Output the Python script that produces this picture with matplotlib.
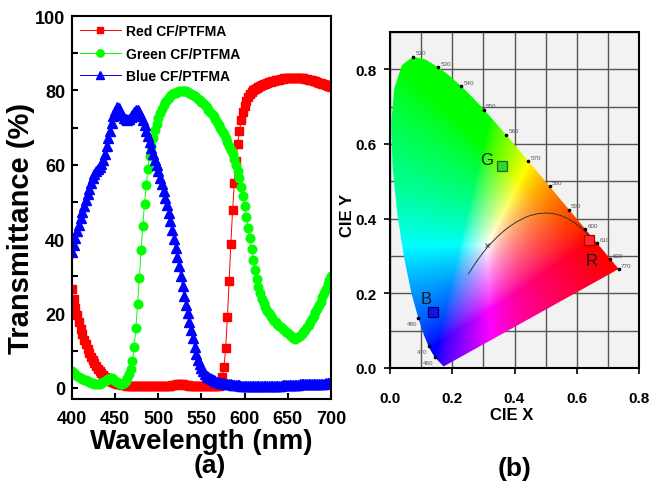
import numpy as np
import matplotlib
matplotlib.use("Agg")
import matplotlib.pyplot as plt
from matplotlib.patches import Polygon
from matplotlib.ticker import MultipleLocator

plt.rcParams['font.family'] = ['Liberation Sans', 'DejaVu Sans']

# ---- panel (a): transmittance spectra, sampled every 2 nm ----
wavelength = np.arange(400, 701, 2)

red_T = [
    26.5, 24.0, 21.6, 19.5, 17.6, 15.9, 14.4, 13.0, 11.7, 10.5,   # 400-418
    9.4, 8.4, 7.5, 6.6, 5.8, 5.1, 4.5, 3.9, 3.4, 3.0,             # 420-438
    2.6, 2.3, 2.0, 1.7, 1.5, 1.3, 1.1, 1.0, 0.9, 0.8,             # 440-458
    0.7, 0.7, 0.6, 0.6, 0.6, 0.5, 0.5, 0.5, 0.5, 0.5,             # 460-478
    0.5, 0.5, 0.5, 0.5, 0.5, 0.5, 0.5, 0.5, 0.5, 0.5,             # 480-498
    0.5, 0.5, 0.5, 0.5, 0.5, 0.5, 0.6, 0.6, 0.7, 0.7,             # 500-518
    0.8, 0.9, 1.0, 1.0, 0.9, 0.8, 0.7, 0.7, 0.6, 0.6,             # 520-538
    0.5, 0.5, 0.4, 0.4, 0.4, 0.4, 0.4, 0.4, 0.4, 0.4,             # 540-558
    0.4, 0.4, 0.4, 0.4, 0.5, 0.6, 1.0, 2.9, 5.5, 10.7,            # 560-578
    19.0, 28.8, 38.7, 47.7, 55.1, 61.1, 65.6, 69.2, 71.9, 74.1,   # 580-598
    75.7, 77.1, 78.2, 79.0, 79.6, 80.0, 80.4, 80.7, 81.0, 81.2,   # 600-618
    81.4, 81.6, 81.8, 82.0, 82.2, 82.3, 82.5, 82.6, 82.7, 82.8,   # 620-638
    82.9, 83.0, 83.1, 83.2, 83.2, 83.3, 83.3, 83.3, 83.4, 83.4,   # 640-658
    83.4, 83.3, 83.3, 83.2, 83.2, 83.1, 83.0, 82.9, 82.8, 82.7,   # 660-678
    82.5, 82.4, 82.2, 82.1, 81.9, 81.8, 81.6, 81.4, 81.3, 81.1,   # 680-698
    80.9,                                                         # 700
]

green_T = [
    4.5, 4.0, 3.6, 3.2, 2.9, 2.6, 2.4, 2.2, 2.0, 1.8,             # 400-418
    1.6, 1.4, 1.2, 1.0, 0.9, 0.9, 1.0, 1.2, 1.5, 1.8,             # 420-438
    2.1, 2.4, 2.6, 2.6, 2.3, 1.9, 1.5, 1.2, 1.0, 1.1,             # 440-458
    1.4, 1.9, 2.6, 3.6, 5.0, 7.3, 11.0, 16.0, 22.6, 29.6,         # 460-478
    37.0, 43.6, 49.5, 54.6, 58.9, 62.4, 65.0, 67.3, 69.3, 71.0,   # 480-498
    72.5, 73.8, 75.0, 76.0, 76.8, 77.5, 78.0, 78.5, 78.9, 79.2,   # 500-518
    79.4, 79.6, 79.7, 79.8, 79.8, 79.8, 79.7, 79.6, 79.4, 79.1,   # 520-538
    78.8, 78.5, 78.2, 77.8, 77.5, 77.0, 76.5, 76.0, 75.4, 74.8,   # 540-558
    74.2, 73.6, 73.0, 72.4, 71.6, 70.8, 70.0, 69.1, 68.2, 67.2,   # 560-578
    66.2, 65.1, 64.0, 62.8, 61.5, 60.0, 58.3, 56.3, 54.0, 51.5,   # 580-598
    48.8, 46.0, 43.1, 40.2, 37.3, 34.5, 31.8, 29.3, 27.2, 25.5,   # 600-618
    24.0, 22.8, 21.7, 20.8, 20.0, 19.3, 18.7, 18.1, 17.6, 17.1,   # 620-638
    16.7, 16.3, 15.9, 15.5, 15.1, 14.7, 14.3, 13.9, 13.5, 13.2,   # 640-658
    13.3, 13.6, 14.0, 14.5, 15.0, 15.6, 16.3, 17.0, 17.8, 18.6,   # 660-678
    19.4, 20.3, 21.2, 22.2, 23.2, 24.3, 25.4, 26.6, 27.8, 29.0,   # 680-698
    30.2,                                                         # 700
]

blue_T = [
    36.5, 38.5, 40.3, 42.1, 43.9, 45.7, 47.4, 49.0, 50.6, 52.1,   # 400-418
    53.6, 55.0, 56.3, 57.4, 58.2, 58.8, 59.4, 60.2, 61.4, 63.0,   # 420-438
    65.0, 67.1, 69.2, 71.3, 73.1, 74.5, 75.4, 75.2, 74.3, 73.3,   # 440-458
    72.6, 72.2, 72.1, 72.4, 72.9, 73.5, 74.1, 74.6, 74.8, 74.2,   # 460-478
    73.2, 72.0, 70.6, 69.1, 67.6, 66.1, 64.6, 63.0, 61.4, 59.8,   # 480-498
    58.2, 56.5, 54.8, 53.0, 51.1, 49.1, 47.0, 44.8, 42.5, 40.1,   # 500-518
    37.6, 35.2, 32.7, 30.1, 27.4, 24.8, 22.3, 20.0, 17.8, 15.6,   # 520-538
    13.3, 11.0, 9.0, 7.5, 6.3, 5.3, 4.5, 3.8, 3.3, 2.9,           # 540-558
    2.6, 2.3, 2.1, 1.9, 1.7, 1.5, 1.4, 1.3, 1.2, 1.1,             # 560-578
    1.0, 0.9, 0.9, 0.8, 0.8, 0.7, 0.7, 0.7, 0.6, 0.6,             # 580-598
    0.6, 0.6, 0.6, 0.6, 0.6, 0.6, 0.6, 0.6, 0.6, 0.6,             # 600-618
    0.6, 0.6, 0.6, 0.6, 0.6, 0.6, 0.6, 0.6, 0.6, 0.6,             # 620-638
    0.6, 0.6, 0.7, 0.7, 0.7, 0.7, 0.7, 0.8, 0.8, 0.8,             # 640-658
    0.8, 0.8, 0.9, 0.9, 0.9, 0.9, 0.9, 1.0, 1.0, 1.0,             # 660-678
    1.0, 1.0, 1.1, 1.1, 1.1, 1.1, 1.1, 1.2, 1.2, 1.2,             # 680-698
    1.2,                                                          # 700
]

series_labels = ["Red CF/PTFMA", "Green CF/PTFMA", "Blue CF/PTFMA"]

# ---- panel (b): CIE 1931 chromaticity ----
locus_x = [0.1741, 0.1740, 0.1738, 0.1736, 0.1733, 0.1730, 0.1726, 0.1721,
           0.1714, 0.1703, 0.1689, 0.1669, 0.1644, 0.1611, 0.1566, 0.1510,
           0.1440, 0.1355, 0.1241, 0.1096, 0.0913, 0.0687, 0.0454, 0.0235,
           0.0082, 0.0039, 0.0139, 0.0389, 0.0743, 0.1142, 0.1547, 0.1929,
           0.2296, 0.2658, 0.3016, 0.3373, 0.3731, 0.4087, 0.4441, 0.4788,
           0.5125, 0.5448, 0.5752, 0.6029, 0.6270, 0.6482, 0.6658, 0.6801,
           0.6915, 0.7006, 0.7079, 0.7140, 0.7190, 0.7230, 0.7260, 0.7283,
           0.7300, 0.7311, 0.7320, 0.7334, 0.7347]
locus_y = [0.0050, 0.0050, 0.0049, 0.0049, 0.0048, 0.0048, 0.0048, 0.0048,
           0.0051, 0.0058, 0.0069, 0.0086, 0.0109, 0.0138, 0.0177, 0.0227,
           0.0297, 0.0399, 0.0578, 0.0868, 0.1327, 0.2007, 0.2950, 0.4127,
           0.5384, 0.6548, 0.7502, 0.8120, 0.8338, 0.8262, 0.8059, 0.7816,
           0.7543, 0.7243, 0.6923, 0.6589, 0.6245, 0.5896, 0.5547, 0.5202,
           0.4866, 0.4544, 0.4242, 0.3965, 0.3725, 0.3514, 0.3340, 0.3197,
           0.3083, 0.2993, 0.2920, 0.2859, 0.2809, 0.2770, 0.2740, 0.2717,
           0.2700, 0.2689, 0.2680, 0.2666, 0.2653]

mark_nm = [520, 530, 540, 550, 560, 570, 580, 590, 600, 610, 630, 770, 480, 470, 460]
mark_x = [0.0743, 0.1547, 0.2296, 0.3016, 0.3731, 0.4441, 0.5125, 0.5752,
          0.6270, 0.6658, 0.7079, 0.7347, 0.0913, 0.1241, 0.1440]
mark_y = [0.8338, 0.8059, 0.7543, 0.6923, 0.6245, 0.5547, 0.4866, 0.4242,
          0.3725, 0.3340, 0.2920, 0.2653, 0.1327, 0.0578, 0.0297]

planck_x = [0.6528, 0.6251, 0.5985, 0.5732, 0.5492, 0.5267, 0.5056, 0.4770,
            0.4512, 0.4369, 0.4053, 0.3805, 0.3608, 0.3451, 0.3221, 0.3064,
            0.2952, 0.2807, 0.2687, 0.2603, 0.2525]
planck_y = [0.3444, 0.3674, 0.3858, 0.3993, 0.4082, 0.4133, 0.4152, 0.4137,
            0.4086, 0.4041, 0.3907, 0.3768, 0.3636, 0.3516, 0.3318, 0.3166,
            0.3048, 0.2884, 0.2739, 0.2627, 0.2523]
white_x, white_y = 0.3127, 0.3290

cf_names = ["R", "G", "B"]
cf_x = [0.640, 0.359, 0.139]
cf_y = [0.342, 0.540, 0.150]
cf_face = ["#ff2a2a", "#2ed62e", "#1414e6"]
cf_edge = ["#b00000", "#1d6b1d", "#000060"]
cf_text_xy = [(0.648, 0.288), (0.310, 0.558), (0.115, 0.185)]

W, H = 652, 489
fig = plt.figure(figsize=(W / 100, H / 100), dpi=100)


def box(l, t, r, b):
    return [l / W, 1 - b / H, (r - l) / W, (b - t) / H]


# ---------------- panel (a) ----------------
ax1 = fig.add_axes(box(72, 17, 331, 400))
ax1.plot(wavelength, red_T, color="#ff0000", lw=0.7, marker="s", ms=5.4,
         mec="#ff0000", label=series_labels[0])
ax1.plot(wavelength, green_T, color="#00ff00", lw=0.7, marker="o", ms=6.2,
         mec="#00ff00", label=series_labels[1])
ax1.plot(wavelength, blue_T, color="#0000ff", lw=0.7, marker="^", ms=6.6,
         mec="#0000ff", label=series_labels[2])
ax1.set_xlim(400, 700)
ax1.set_ylim(-3, 100)
ax1.set_xticks(range(400, 701, 50))
ax1.set_yticks(range(0, 101, 20))
ax1.yaxis.set_minor_locator(MultipleLocator(10))
ax1.tick_params(which="both", direction="in", width=1.5, labelsize=13)
ax1.tick_params(which="major", length=4.5)
ax1.tick_params(which="minor", length=4)
ax1.tick_params(axis="x", pad=8)
ax1.tick_params(axis="y", pad=5)
for lab in ax1.get_xticklabels() + ax1.get_yticklabels():
    lab.set_fontweight("bold")
for s in ax1.spines.values():
    s.set_linewidth(1.5)
ax1.legend(loc="upper left", frameon=False, prop={"weight": "bold", "size": 10},
           handlelength=2.9, handletextpad=0.4, labelspacing=0.6,
           borderaxespad=0.3, borderpad=0.3, numpoints=1, markerscale=0.85)

fig.text(21 / W, 1 - 228 / H, "Transmittance (%)", rotation=90, ha="center",
         va="center", fontsize=21, fontweight="bold")
fig.text(201 / W, 1 - 442 / H, "Wavelength (nm)", ha="center", va="center",
         fontsize=20, fontweight="bold")
fig.text(210 / W, 1 - 466 / H, "(a)", ha="center", va="center",
         fontsize=19, fontweight="bold")

# ---------------- panel (b) ----------------
ax2 = fig.add_axes(box(390, 33, 639, 369))
ax2.set_facecolor("#f2f2f2")
ax2.set_xlim(0, 0.8)
ax2.set_ylim(0, 0.9)
ax2.set_xticks([0.0, 0.2, 0.4, 0.6, 0.8])
ax2.set_yticks([0.0, 0.2, 0.4, 0.6, 0.8])
ax2.set_xticklabels(["0.0", "0.2", "0.4", "0.6", "0.8"])
ax2.set_yticklabels(["0.0", "0.2", "0.4", "0.6", "0.8"])
ax2.xaxis.set_minor_locator(MultipleLocator(0.1))
ax2.yaxis.set_minor_locator(MultipleLocator(0.1))
ax2.set_axisbelow(True)
ax2.grid(True, which="both", color="#555555", lw=1.0)
ax2.tick_params(which="major", direction="out", length=4.5, width=1.2, labelsize=11)
ax2.tick_params(which="minor", length=0)
ax2.tick_params(axis="x", pad=12)
ax2.tick_params(axis="y", pad=5)
for lab in ax2.get_xticklabels() + ax2.get_yticklabels():
    lab.set_fontweight("bold")
for s in ax2.spines.values():
    s.set_linewidth(1.5)

# chromaticity colours inside the spectral locus
gx = np.linspace(0, 0.8, 480)
gy = np.linspace(0, 0.9, 540)
XX, YY = np.meshgrid(gx, gy)
Ys = np.maximum(YY, 1e-4)
Xt = XX / Ys
Zt = (1 - XX - YY) / Ys
r = 3.2406 * Xt - 1.5372 - 0.4986 * Zt
g = -0.9689 * Xt + 1.8758 + 0.0415 * Zt
b = 0.0557 * Xt - 0.2040 + 1.0570 * Zt
rgb = np.clip(np.dstack([r, g, b]), 0, None)
rgb = rgb / (rgb.max(axis=2, keepdims=True) + 1e-9)
rgb = rgb ** 1.5  # push colours a bit further from white, like the source image
rgb = np.where(rgb <= 0.0031308, 12.92 * rgb, 1.055 * rgb ** (1 / 2.4) - 0.055)
rgb = np.clip(rgb, 0, 1)
im = ax2.imshow(rgb, origin="lower", extent=(0, 0.8, 0, 0.9), aspect="auto",
                interpolation="bilinear", zorder=1)
horseshoe = Polygon(np.column_stack([locus_x, locus_y]), closed=True,
                    facecolor="none", edgecolor="none", transform=ax2.transData)
ax2.add_patch(horseshoe)
im.set_clip_path(horseshoe)

ax2.plot(planck_x, planck_y, color="#333333", lw=0.7, zorder=3)
ax2.plot(white_x, white_y, "x", color="#333333", ms=2.5, mew=0.6, zorder=3)

ax2.plot(mark_x, mark_y, "o", color="black", ms=1.6, zorder=4)
for nm, mx, my in zip(mark_nm, mark_x, mark_y):
    if nm < 500:
        ax2.annotate(str(nm), (mx, my), xytext=(-1, -2), textcoords="offset points",
                     ha="right", va="top", fontsize=4.5, color="#555555", zorder=4)
    else:
        ax2.annotate(str(nm), (mx, my), xytext=(1.5, 1), textcoords="offset points",
                     ha="left", va="bottom", fontsize=4.5, color="#555555", zorder=4)

for name, px, py, fc, ec, (tx, ty) in zip(cf_names, cf_x, cf_y, cf_face, cf_edge, cf_text_xy):
    ax2.plot(px, py, "s", ms=6.5, mfc=fc, mec=ec, mew=0.9, zorder=5)
    ax2.text(tx, ty, name, ha="center", va="center", fontsize=12, color="#1a1a1a", zorder=5)

fig.text(512 / W, 1 - 416 / H, "CIE X", ha="center", va="center",
         fontsize=12, fontweight="bold")
fig.text(347 / W, 1 - 215 / H, "CIE Y", rotation=90, ha="center", va="center",
         fontsize=12, fontweight="bold")
fig.text(515 / W, 1 - 469 / H, "(b)", ha="center", va="center",
         fontsize=19, fontweight="bold")

fig.savefig("out.png", dpi=100)
